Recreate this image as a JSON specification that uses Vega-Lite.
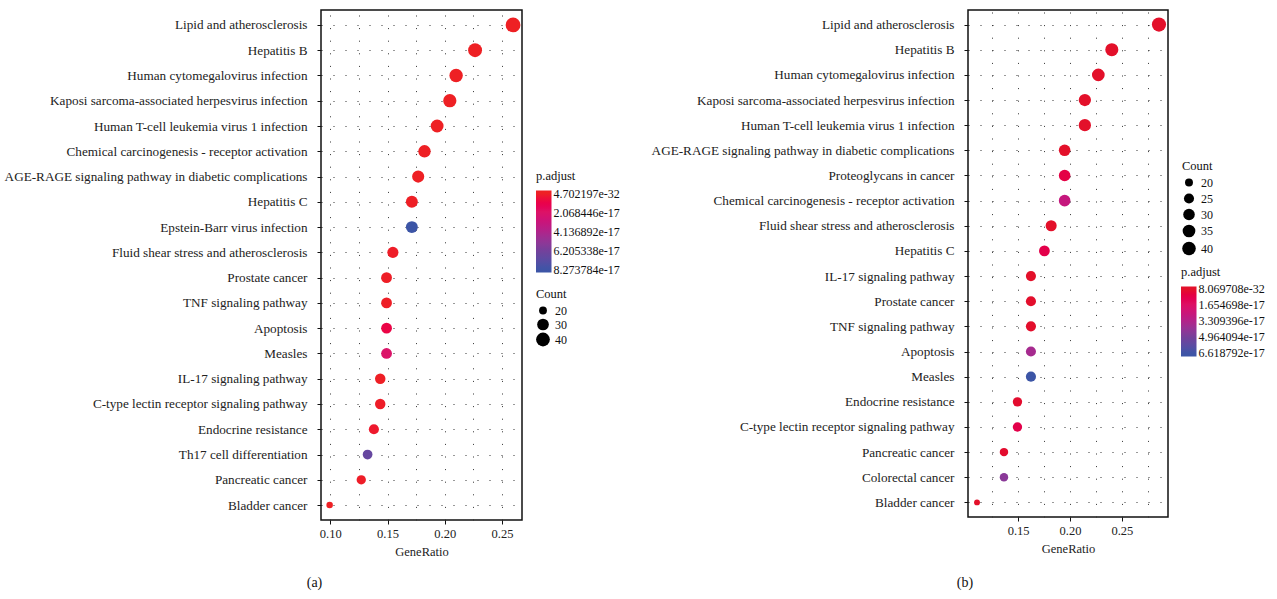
{
  "$schema": "https://vega.github.io/schema/vega-lite/v6.json",
  "padding": {"left": 3, "top": 9, "right": 0, "bottom": 0},
  "bounds": "flush",
  "spacing": 446,
  "background": "white",
  "resolve": {
    "scale": {"color": "independent", "size": "independent"},
    "legend": {"color": "independent", "size": "independent"}
  },
  "config": {
    "font": "Liberation Serif",
    "view": {"stroke": "#111", "strokeWidth": 1.5},
    "axis": {
      "labelFont": "Liberation Serif", "labelFontSize": 13.2, "labelColor": "#222", "labelLimit": 0,
      "titleFont": "Liberation Serif", "titleFontSize": 12.5, "titleFontWeight": "normal", "titleColor": "#222",
      "tickColor": "#111", "tickSize": 4, "domain": false,
      "gridColor": "#333", "gridWidth": 1
    },
    "legend": {
      "labelFont": "Liberation Serif", "labelFontSize": 12, "labelColor": "#111",
      "titleFont": "Liberation Serif", "titleFontSize": 12.5, "titleFontWeight": "normal", "titleColor": "#111",
      "gradientStrokeWidth": 0, "titlePadding": 8, "labelOffset": 5, "labelOverlap": false
    },
    "title": {"font": "Liberation Serif", "fontSize": 14, "fontWeight": "normal", "color": "#111"}
  },
  "hconcat": [
    {
      "width": 201,
      "height": 510,
      "title": {"text": "(a)", "orient": "bottom", "anchor": "middle", "dx": -107, "offset": 18},
      "data": {"values": [
        {"term": "Lipid and atherosclerosis", "GeneRatio": 0.25967, "Count": 47, "p_adjust": 4.702197e-32},
        {"term": "Hepatitis B", "GeneRatio": 0.22652, "Count": 41, "p_adjust": 1e-25},
        {"term": "Human cytomegalovirus infection", "GeneRatio": 0.20994, "Count": 38, "p_adjust": 1e-24},
        {"term": "Kaposi sarcoma-associated herpesvirus infection", "GeneRatio": 0.20442, "Count": 37, "p_adjust": 1e-22},
        {"term": "Human T-cell leukemia virus 1 infection", "GeneRatio": 0.19337, "Count": 35, "p_adjust": 1e-21},
        {"term": "Chemical carcinogenesis - receptor activation", "GeneRatio": 0.18232, "Count": 33, "p_adjust": 1e-20},
        {"term": "AGE-RAGE signaling pathway in diabetic complications", "GeneRatio": 0.1768, "Count": 32, "p_adjust": 1e-20},
        {"term": "Hepatitis C", "GeneRatio": 0.17127, "Count": 31, "p_adjust": 2e-19},
        {"term": "Epstein-Barr virus infection", "GeneRatio": 0.17127, "Count": 31, "p_adjust": 8.273784e-17},
        {"term": "Fluid shear stress and atherosclerosis", "GeneRatio": 0.1547, "Count": 28, "p_adjust": 1e-18},
        {"term": "Prostate cancer", "GeneRatio": 0.14917, "Count": 27, "p_adjust": 5e-19},
        {"term": "TNF signaling pathway", "GeneRatio": 0.14917, "Count": 27, "p_adjust": 5e-19},
        {"term": "Apoptosis", "GeneRatio": 0.14917, "Count": 27, "p_adjust": 9e-18},
        {"term": "Measles", "GeneRatio": 0.14917, "Count": 27, "p_adjust": 2.1e-17},
        {"term": "IL-17 signaling pathway", "GeneRatio": 0.14365, "Count": 26, "p_adjust": 2e-19},
        {"term": "C-type lectin receptor signaling pathway", "GeneRatio": 0.14365, "Count": 26, "p_adjust": 1e-18},
        {"term": "Endocrine resistance", "GeneRatio": 0.13812, "Count": 25, "p_adjust": 2e-18},
        {"term": "Th17 cell differentiation", "GeneRatio": 0.1326, "Count": 24, "p_adjust": 6.8e-17},
        {"term": "Pancreatic cancer", "GeneRatio": 0.12707, "Count": 23, "p_adjust": 1e-18},
        {"term": "Bladder cancer", "GeneRatio": 0.09945, "Count": 18, "p_adjust": 1e-19}
      ]},
      "mark": {"type": "circle", "opacity": 1},
      "encoding": {
        "y": {
          "field": "term", "type": "nominal", "sort": null,
          "scale": {"type": "point", "padding": 0.59},
          "axis": {"title": null, "grid": true, "gridDash": [1, 11], "labelPadding": 10}
        },
        "x": {
          "field": "GeneRatio", "type": "quantitative", "title": "GeneRatio",
          "scale": {"domain": [0.0919, 0.2675], "nice": false, "zero": false},
          "axis": {
            "values": [0.1, 0.125, 0.15, 0.175, 0.2, 0.225, 0.25],
            "labelExpr": "round(datum.value*40) % 2 == 0 ? format(datum.value, '.2f') : ''",
            "labelFontSize": 12.5,
            "tickOpacity": {"condition": {"test": "round(datum.value*40) % 2 == 0", "value": 1}, "value": 0},
            "grid": true, "gridDash": [1, 11.6], "labelPadding": 3, "titlePadding": 6
          }
        },
        "color": {
          "field": "p_adjust", "type": "quantitative",
          "scale": {
            "domain": [8.6e-17, 8.273784e-17, 6.205338e-17, 4.136892e-17, 2.068446e-17, 4.702197e-32, -3.27e-18],
            "range": ["#3C55A6", "#3C55A6", "#74409A", "#B0238A", "#DC1468", "#EE2024", "#EE2024"]
          },
          "legend": {
            "title": "p.adjust", "orient": "none", "direction": "vertical",
            "legendX": 215, "legendY": 160,
            "values": [4.702197e-32, 2.068446e-17, 4.136892e-17, 6.205338e-17, 8.273784e-17],
            "format": ".6e", "gradientLength": 82, "gradientThickness": 15.5
          }
        },
        "size": {
          "field": "Count", "type": "quantitative",
          "scale": {"type": "log", "domain": [18, 47], "range": [42, 219]},
          "legend": {
            "title": "Count", "orient": "none", "direction": "vertical",
            "legendX": 215, "legendY": 278, "titlePadding": 4,
            "values": [20, 30, 40],
            "symbolFillColor": "#000", "symbolStrokeWidth": 0, "symbolType": "circle", "symbolOpacity": 1
          }
        }
      }
    },
    {
      "width": 200,
      "height": 507,
      "title": {"text": "(b)", "orient": "bottom", "anchor": "middle", "dx": -103, "offset": 21},
      "data": {"values": [
        {"term": "Lipid and atherosclerosis", "GeneRatio": 0.28571, "Count": 44, "p_adjust": 8.069708e-32},
        {"term": "Hepatitis B", "GeneRatio": 0.24026, "Count": 37, "p_adjust": 1e-25},
        {"term": "Human cytomegalovirus infection", "GeneRatio": 0.22727, "Count": 35, "p_adjust": 1e-24},
        {"term": "Kaposi sarcoma-associated herpesvirus infection", "GeneRatio": 0.21429, "Count": 33, "p_adjust": 1e-22},
        {"term": "Human T-cell leukemia virus 1 infection", "GeneRatio": 0.21429, "Count": 33, "p_adjust": 1e-22},
        {"term": "AGE-RAGE signaling pathway in diabetic complications", "GeneRatio": 0.19481, "Count": 30, "p_adjust": 1e-20},
        {"term": "Proteoglycans in cancer", "GeneRatio": 0.19481, "Count": 30, "p_adjust": 6.5e-18},
        {"term": "Chemical carcinogenesis - receptor activation", "GeneRatio": 0.19481, "Count": 30, "p_adjust": 2.6e-17},
        {"term": "Fluid shear stress and atherosclerosis", "GeneRatio": 0.18182, "Count": 28, "p_adjust": 1e-19},
        {"term": "Hepatitis C", "GeneRatio": 0.17532, "Count": 27, "p_adjust": 8e-18},
        {"term": "IL-17 signaling pathway", "GeneRatio": 0.16234, "Count": 25, "p_adjust": 1e-19},
        {"term": "Prostate cancer", "GeneRatio": 0.16234, "Count": 25, "p_adjust": 5e-19},
        {"term": "TNF signaling pathway", "GeneRatio": 0.16234, "Count": 25, "p_adjust": 5e-19},
        {"term": "Apoptosis", "GeneRatio": 0.16234, "Count": 25, "p_adjust": 3.6e-17},
        {"term": "Measles", "GeneRatio": 0.16234, "Count": 25, "p_adjust": 6.618792e-17},
        {"term": "Endocrine resistance", "GeneRatio": 0.14935, "Count": 23, "p_adjust": 1e-18},
        {"term": "C-type lectin receptor signaling pathway", "GeneRatio": 0.14935, "Count": 23, "p_adjust": 8e-18},
        {"term": "Pancreatic cancer", "GeneRatio": 0.13636, "Count": 21, "p_adjust": 1e-18},
        {"term": "Colorectal cancer", "GeneRatio": 0.13636, "Count": 21, "p_adjust": 4.4e-17},
        {"term": "Bladder cancer", "GeneRatio": 0.11039, "Count": 17, "p_adjust": 1e-19}
      ]},
      "mark": {"type": "circle", "opacity": 1},
      "encoding": {
        "y": {
          "field": "term", "type": "nominal", "sort": null,
          "scale": {"type": "point", "padding": 0.58},
          "axis": {"title": null, "grid": true, "gridDash": [1, 11], "labelPadding": 10}
        },
        "x": {
          "field": "GeneRatio", "type": "quantitative", "title": "GeneRatio",
          "scale": {"domain": [0.1017, 0.2944], "nice": false, "zero": false},
          "axis": {
            "values": [0.125, 0.15, 0.175, 0.2, 0.225, 0.25, 0.275],
            "labelExpr": "round(datum.value*40) % 2 == 0 ? format(datum.value, '.2f') : ''",
            "labelFontSize": 12.5,
            "tickOpacity": {"condition": {"test": "round(datum.value*40) % 2 == 0", "value": 1}, "value": 0},
            "grid": true, "gridDash": [1, 11.6], "labelPadding": 3, "titlePadding": 6
          }
        },
        "color": {
          "field": "p_adjust", "type": "quantitative",
          "scale": {
            "domain": [6.93e-17, 6.618792e-17, 4.964094e-17, 3.309396e-17, 1.654698e-17, 8.069708e-32, -3.1e-18],
            "range": ["#3C55A6", "#3C55A6", "#74409A", "#B0238A", "#DC1468", "#E3102A", "#E3102A"]
          },
          "legend": {
            "title": "p.adjust", "orient": "none", "direction": "vertical",
            "legendX": 213, "legendY": 256,
            "values": [8.069708e-32, 1.654698e-17, 3.309396e-17, 4.964094e-17, 6.618792e-17],
            "format": ".6e", "gradientLength": 70, "gradientThickness": 15.5
          }
        },
        "size": {
          "field": "Count", "type": "quantitative",
          "scale": {"type": "log", "domain": [17, 44], "range": [35, 201]},
          "legend": {
            "title": "Count", "orient": "none", "direction": "vertical",
            "legendX": 214, "legendY": 150, "titlePadding": 4, "rowPadding": 4,
            "values": [20, 25, 30, 35, 40],
            "symbolFillColor": "#000", "symbolStrokeWidth": 0, "symbolType": "circle", "symbolOpacity": 1
          }
        }
      }
    }
  ]
}
